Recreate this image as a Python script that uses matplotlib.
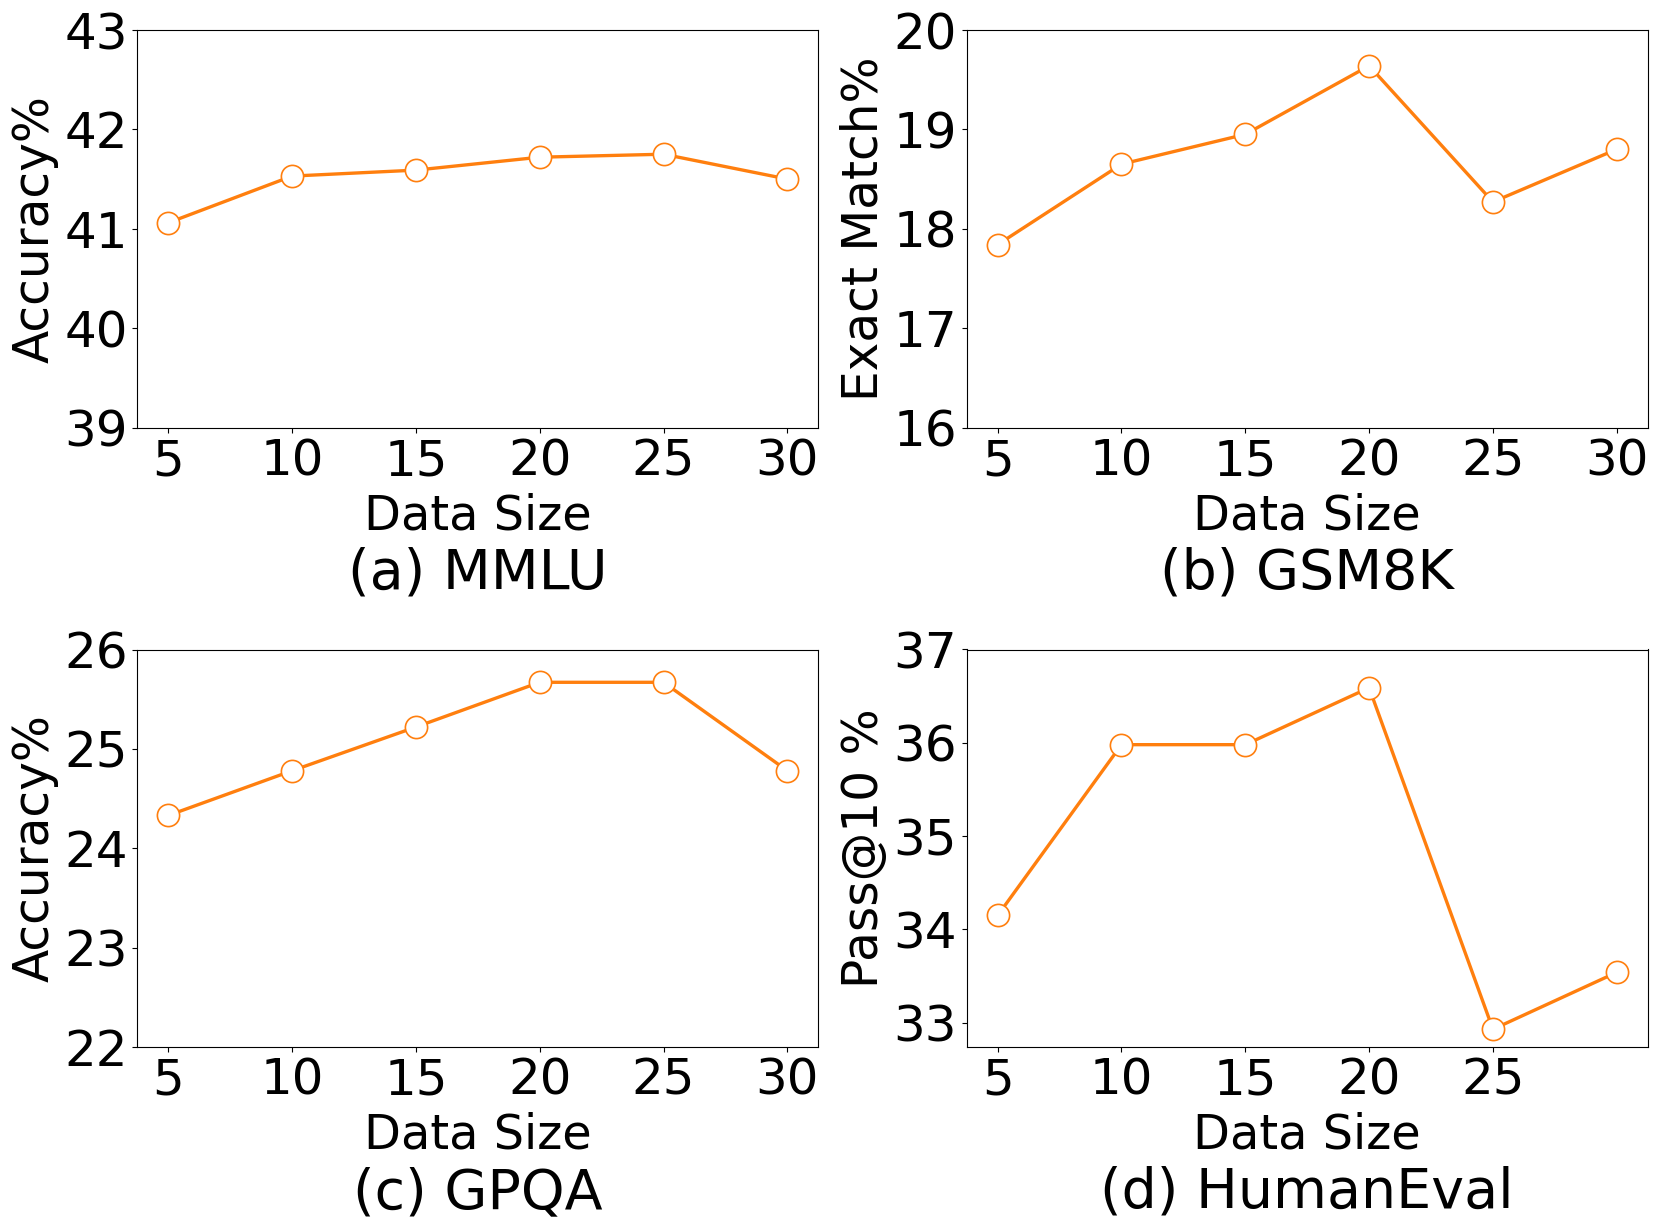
import matplotlib
matplotlib.use("Agg")
import matplotlib.pyplot as plt

data_size = [5, 10, 15, 20, 25, 30]

mmlu = [41.06, 41.53, 41.59, 41.72, 41.75, 41.50]
gsm8k = [17.84, 18.65, 18.95, 19.64, 18.27, 18.80]
gpqa = [24.33, 24.78, 25.22, 25.67, 25.67, 24.78]
humaneval = [34.15, 35.98, 35.98, 36.59, 32.93, 33.54]

ylabels = ["Accuracy%", "Exact Match%", "Accuracy%", "Pass@10 %"]
titles = ["(a) MMLU", "(b) GSM8K", "(c) GPQA", "(d) HumanEval"]
ylims = [(39, 43), (16, 20), (22, 26), (32.74, 37)]
yticks = [[39, 40, 41, 42, 43], [16, 17, 18, 19, 20], [22, 23, 24, 25, 26], [33, 34, 35, 36, 37]]
xticks = [[5, 10, 15, 20, 25, 30], [5, 10, 15, 20, 25, 30], [5, 10, 15, 20, 25, 30], [5, 10, 15, 20, 25]]
series = [mmlu, gsm8k, gpqa, humaneval]

W, H = 1660, 1232
fig = plt.figure(figsize=(W / 100, H / 100), dpi=100)

lefts = [137.3, 966.7]
tops = [30, 649.5]
aw, ah = 681, 397.5

color = "#ff7f0e"
for i in range(4):
    r, c = divmod(i, 2)
    l = lefts[c]
    t = tops[r]
    ax = fig.add_axes([l / W, 1 - (t + ah) / H, aw / W, ah / H])
    ax.plot(data_size, series[i], color=color, linewidth=2.4, marker="o",
            markersize=16, markerfacecolor="white", markeredgecolor=color,
            markeredgewidth=1.2)
    ax.set_ylim(*ylims[i])
    ax.set_yticks(yticks[i])
    ax.set_xticks(xticks[i])
    ax.tick_params(labelsize=36)
    ax.set_xlabel("Data Size", fontsize=34.5, labelpad=5)
    ax.set_ylabel(ylabels[i], fontsize=35)
    ax.text(0.5, -0.405, titles[i], transform=ax.transAxes, ha="center",
            va="baseline", fontsize=40)

fig.savefig("out.png", dpi=100)
